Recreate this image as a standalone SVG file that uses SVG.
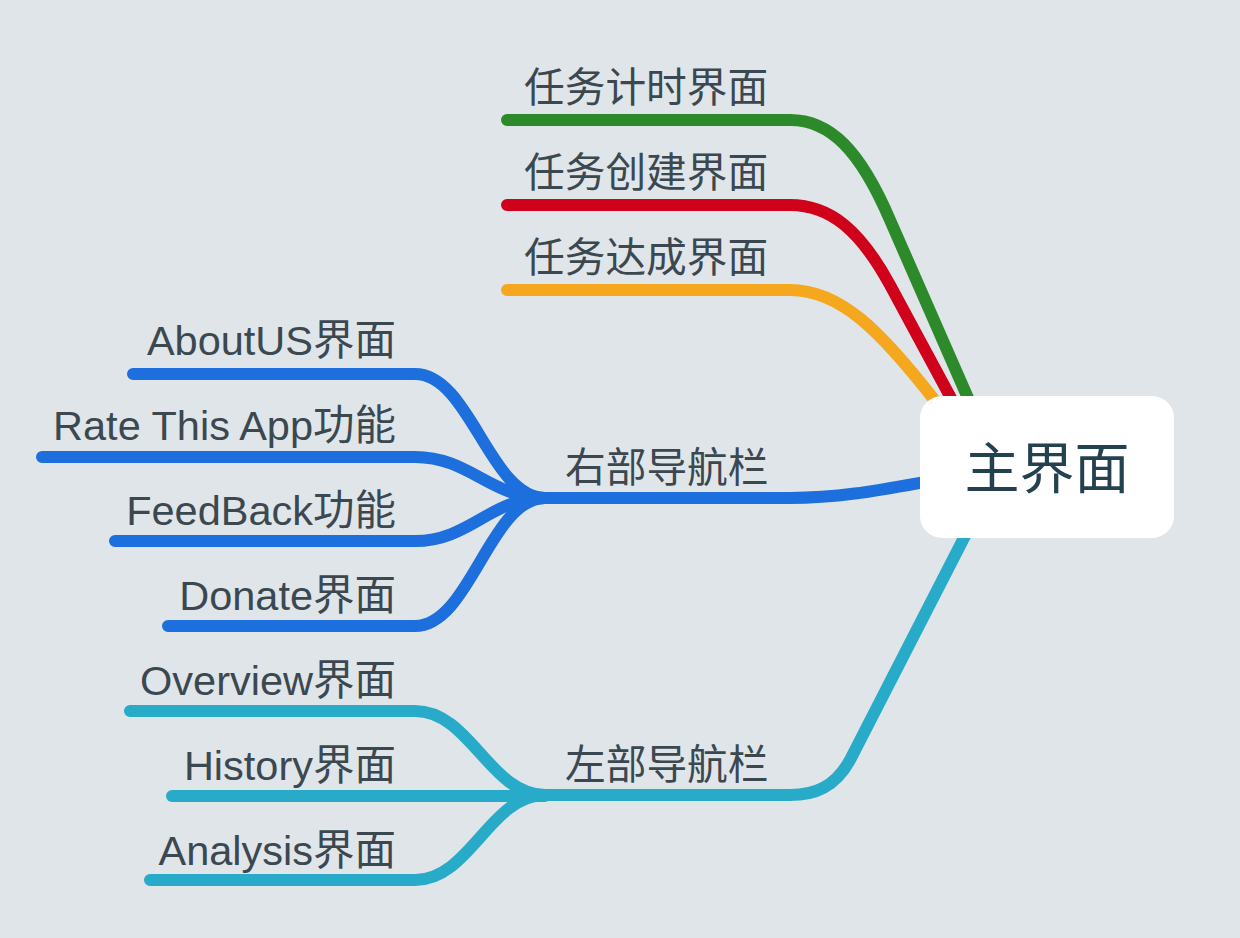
<svg xmlns="http://www.w3.org/2000/svg" width="1240" height="938" viewBox="0 0 1240 938">
<style>
.c{fill:none;stroke-width:12;stroke-linecap:round;stroke-linejoin:round}
.t{font-family:"Liberation Sans","Noto Sans CJK SC",sans-serif;font-size:41.5px;fill:#3b4850}
.z{font-size:40.7px}
.r{text-anchor:end}
.m{font-family:"Noto Sans CJK SC",sans-serif;font-size:55px;fill:#24414f;text-anchor:middle}
</style>
<rect width="1240" height="938" fill="#e0e5ea"/>
<g id="connectors">
<path class="c" stroke="#2d8a2b" d="M507,120 L790,120 C830,120 860,150 890,220 L968,398"/>
<path class="c" stroke="#d0021b" d="M507,205 L790,205 C830,205 860,230 890,285 L952,400"/>
<path class="c" stroke="#f5a71e" d="M507,290 L790,290 C840,290 880,330 936,402"/>
<path class="c" stroke="#1c6fdc" d="M930,481 C880,490 840,498 790,498 L545,498"/>
<path class="c" stroke="#1c6fdc" d="M133,374 L415,374 C470,374 490,498 545,498"/>
<path class="c" stroke="#1c6fdc" d="M42,457 L415,457 C470,457 490,498 545,498"/>
<path class="c" stroke="#1c6fdc" d="M115,541 L415,541 C470,541 490,498 545,498"/>
<path class="c" stroke="#1c6fdc" d="M168,626 L415,626 C470,626 490,498 545,498"/>
<path class="c" stroke="#28abc8" d="M968,530 L850,760 C835,787 815,795 790,795 L545,795"/>
<path class="c" stroke="#28abc8" d="M130,711 L415,711 C470,711 490,795 545,795"/>
<path class="c" stroke="#28abc8" d="M172,796 L545,796"/>
<path class="c" stroke="#28abc8" d="M150,880 L415,880 C470,880 490,795 545,795"/>
</g>
<g id="main"><rect x="920" y="396" width="254" height="142" rx="22" fill="#ffffff"/><text class="m" x="1047" y="488">主界面</text></g>
<g id="n1"><text class="t z" x="524" y="102">任务计时界面</text></g>
<g id="n2"><text class="t z" x="524" y="187">任务创建界面</text></g>
<g id="n3"><text class="t z" x="524" y="272">任务达成界面</text></g>
<g id="right"><text class="t z" x="565" y="482">右部导航栏</text></g>
<g id="left"><text class="t z" x="565" y="779">左部导航栏</text></g>
<g id="about"><text class="t r" x="396" y="355">AboutUS界面</text></g>
<g id="rate"><text class="t r" x="396" y="440">Rate This App功能</text></g>
<g id="feedback"><text class="t r" x="396" y="525">FeedBack功能</text></g>
<g id="donate"><text class="t r" x="396" y="610">Donate界面</text></g>
<g id="overview"><text class="t r" x="396" y="695">Overview界面</text></g>
<g id="history"><text class="t r" x="396" y="780">History界面</text></g>
<g id="analysis"><text class="t r" x="396" y="865">Analysis界面</text></g>
</svg>
